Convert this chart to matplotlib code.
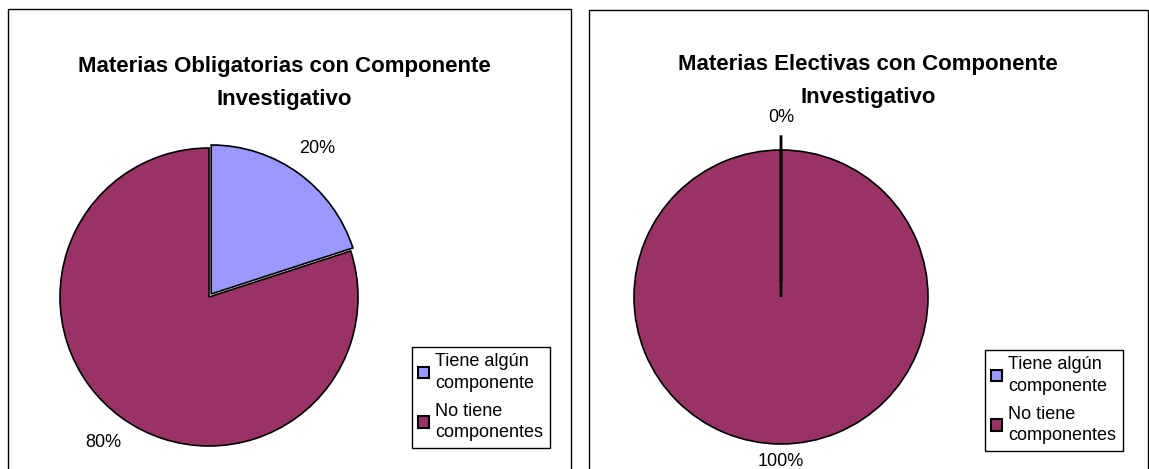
"""Two pie charts: research component in mandatory vs elective subjects"""

import matplotlib.pyplot as plt
from matplotlib.patches import Rectangle

plt.rcParams['font.family'] = ['Liberation Sans', 'DejaVu Sans']

# data
categories = ['Tiene algún\ncomponente', 'No tiene\ncomponentes']
obligatorias = [20, 80]
electivas = [0, 100]
titles = [
    'Materias Obligatorias con Componente\nInvestigativo',
    'Materias Electivas con Componente\nInvestigativo',
]
colors = ['#9999FF', '#993366']

W, H = 1149, 469
fig = plt.figure(figsize=(W / 100, H / 100), dpi=100)


def px_axes(cx, cy, r):
    # axes box around a pie centred at pixel (cx, cy) with radius r
    return fig.add_axes([(cx - r) / W, 1 - (cy + r) / H, 2 * r / W, 2 * r / H])


def frame(x0, y0, x1):
    fig.add_artist(Rectangle((x0 / W, -0.05), (x1 - x0) / W, 1.05 - y0 / H,
                             transform=fig.transFigure, fill=False,
                             edgecolor='black', linewidth=1))


panels = [
    dict(values=obligatorias, title=titles[0], cx=209, cy=297, r=149,
         explode=[0.025, 0], pctd=1.21, tx=284, ty=83, frame=(8, 9, 571),
         leg=(412, 347)),
    dict(values=electivas, title=titles[1], cx=781, cy=297, r=147,
         explode=[0.1, 0], pctd=1.12, tx=868, ty=81, frame=(589, 10, 1148),
         leg=(985, 350)),
]

wp = dict(edgecolor='black', linewidth=1.2)

for p in panels:
    frame(*p['frame'])
    ax = px_axes(p['cx'], p['cy'], p['r'])
    wedges, texts, autotexts = ax.pie(
        p['values'],
        colors=colors,
        explode=p['explode'],
        startangle=90,
        counterclock=False,
        autopct='%1.0f%%',
        pctdistance=p['pctd'],
        wedgeprops=wp,
        textprops=dict(fontsize=13),
    )
    if 0 in p['values']:
        # empty slice shows only as a radial edge, from the centre outwards
        wedges[0].set_zorder(3)
        wedges[0].set_linewidth(2)
        extra = ax.pie(p['values'], colors=['none', 'none'], startangle=90,
                       counterclock=False, wedgeprops=wp)[0]
        extra[0].set_zorder(3)
        extra[0].set_linewidth(2)
        extra[1].set_visible(False)
    ax.set_xlim(-1, 1)
    ax.set_ylim(-1, 1)
    fig.text(p['tx'] / W, 1 - p['ty'] / H, p['title'], ha='center', va='center',
             fontsize=16, fontweight='bold', linespacing=1.75)
    leg = ax.legend(
        wedges, categories,
        loc='upper left',
        bbox_to_anchor=(p['leg'][0] / W, 1 - p['leg'][1] / H),
        bbox_transform=fig.transFigure,
        fontsize=13,
        frameon=True,
        fancybox=False,
        edgecolor='black',
        framealpha=1,
        handlelength=0.6,
        handleheight=0.6,
        handletextpad=0.35,
        borderpad=0.35,
        borderaxespad=0,
        labelspacing=0.6,
    )
    for t in leg.get_texts():
        t.set_linespacing(1.35)
    leg.get_frame().set_linewidth(1)
    for h in leg.legend_handles:
        h.set_edgecolor('black')
        h.set_linewidth(1.5)

plt.savefig('out.png', dpi=100)
plt.close()
